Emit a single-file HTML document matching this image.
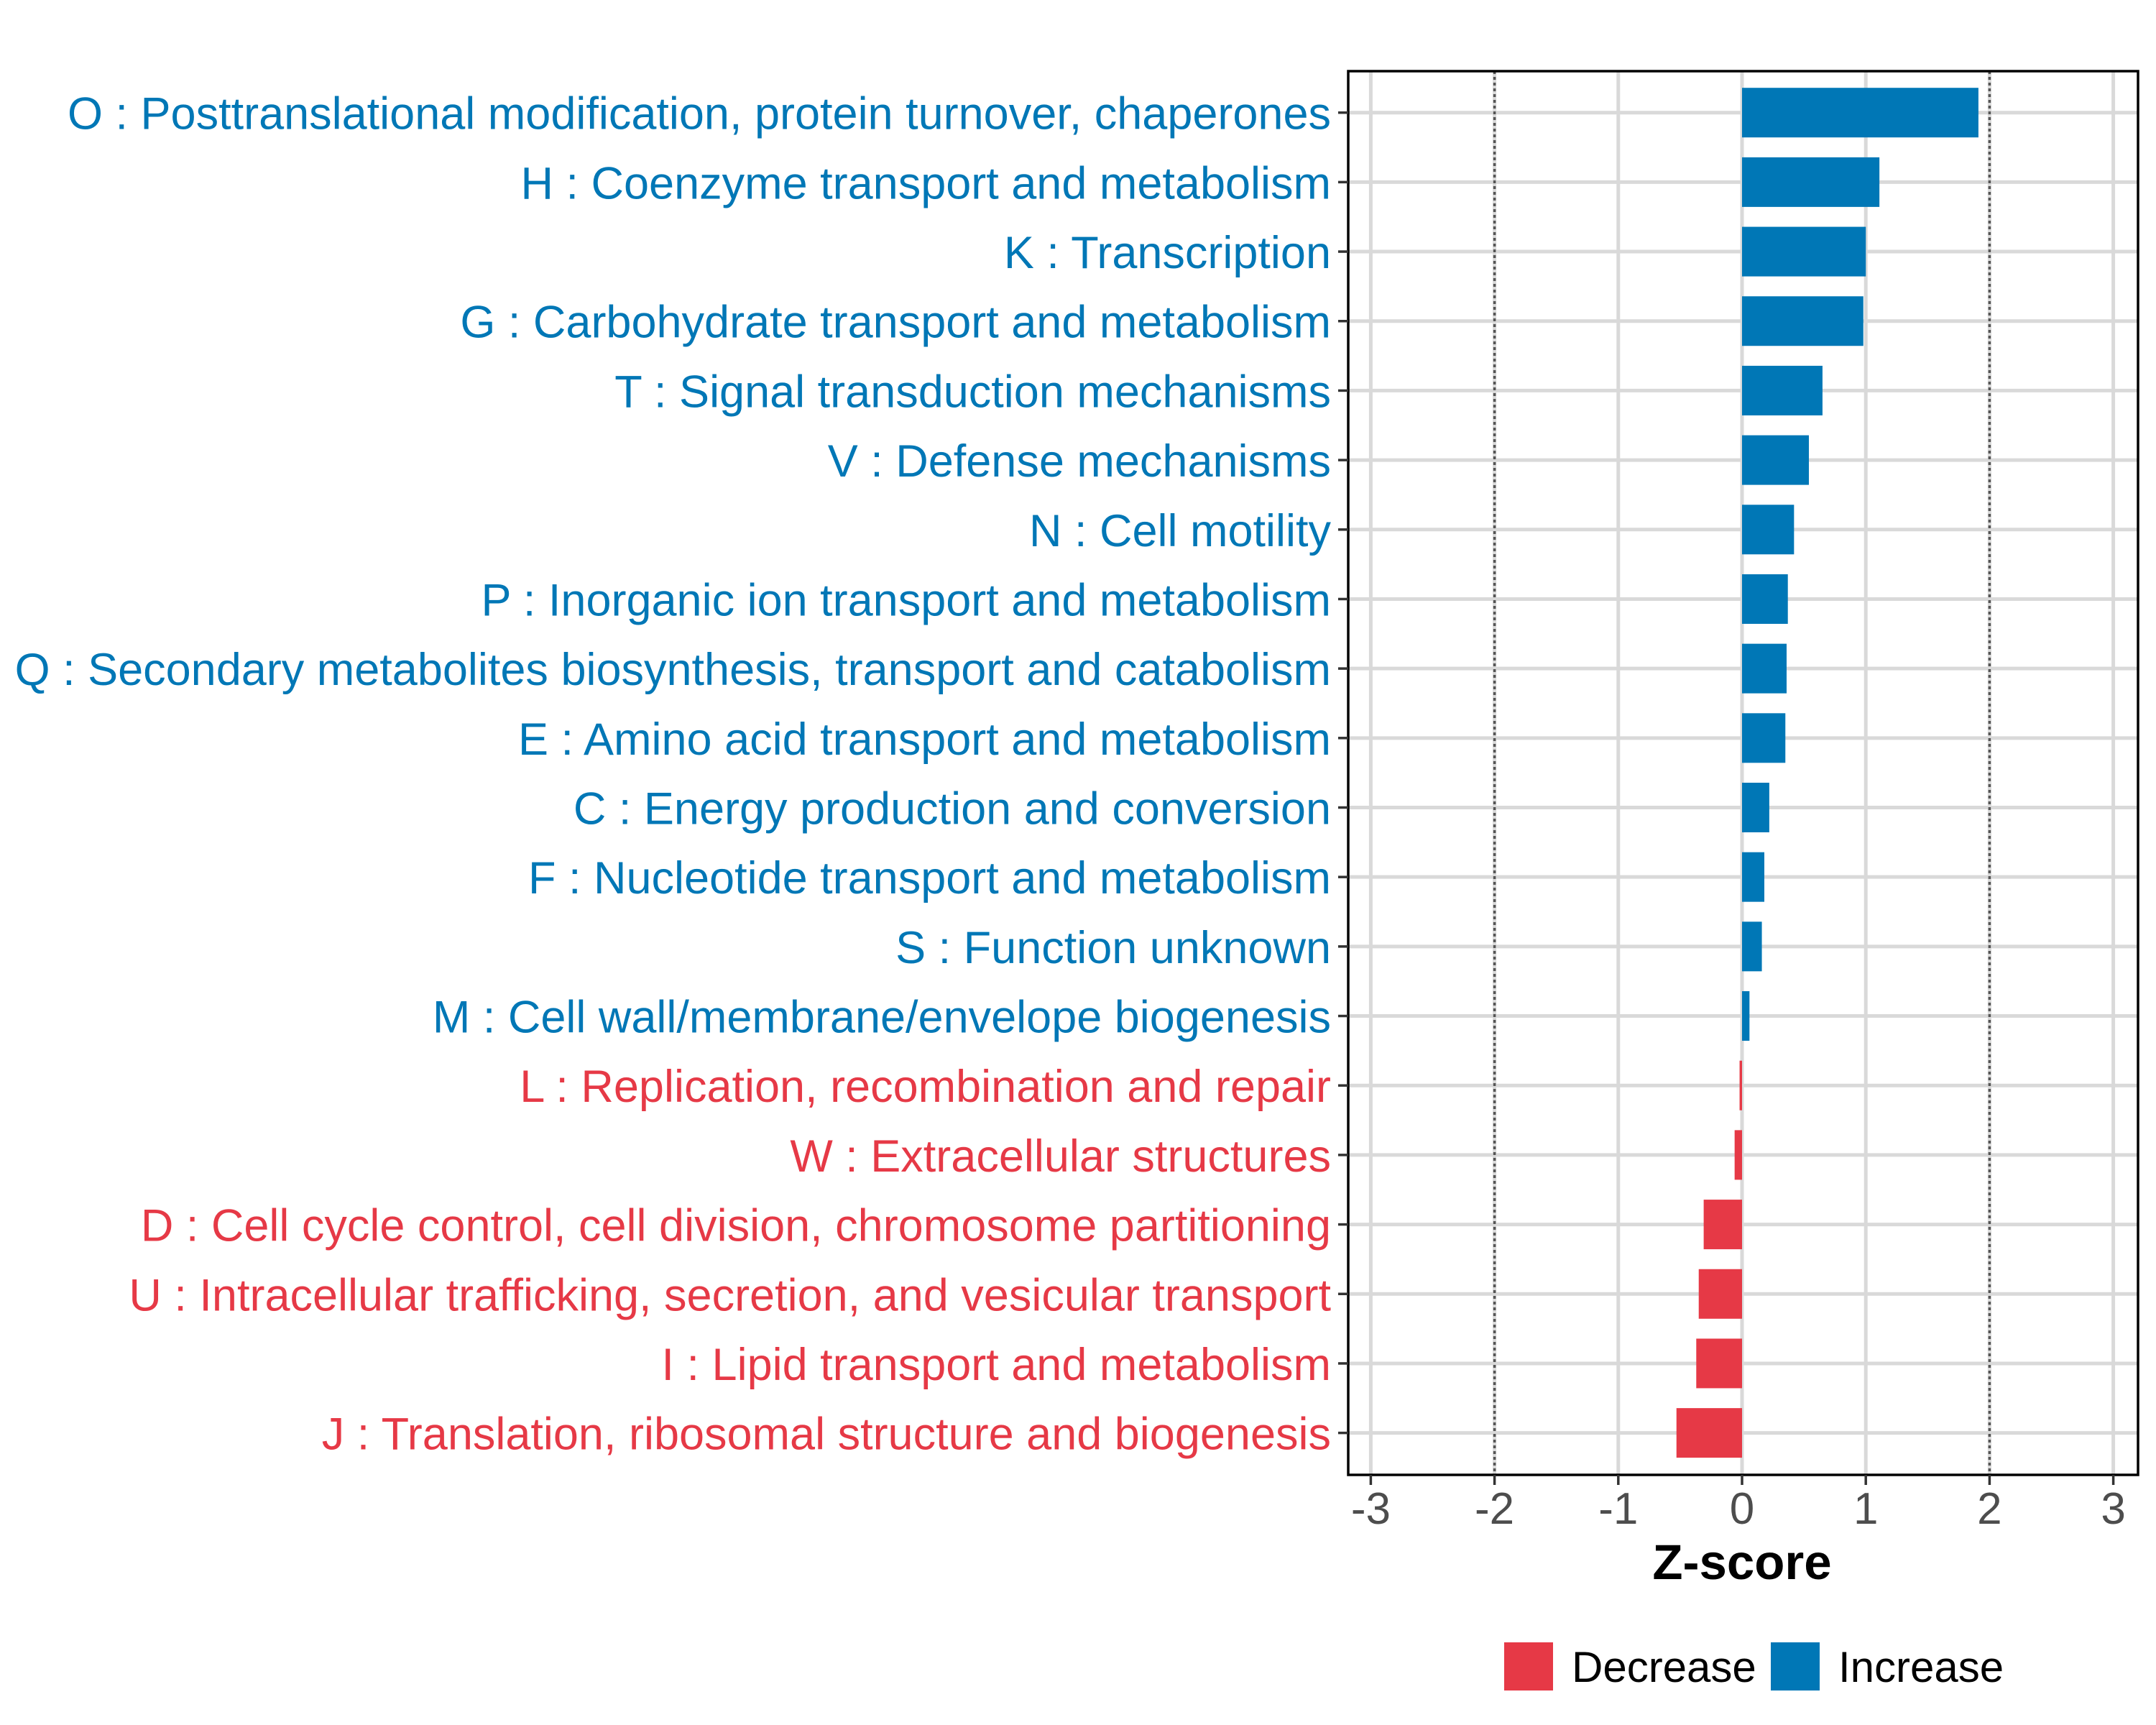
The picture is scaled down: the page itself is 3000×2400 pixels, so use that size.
<!DOCTYPE html>
<html><head><meta charset="utf-8"><style>
html,body{margin:0;padding:0;background:#fff;}
svg{display:block;font-family:"Liberation Sans",sans-serif;}
</style></head><body>
<svg id="chart" width="3000" height="2400" viewBox="0 0 3000 2400">
<rect x="0" y="0" width="3000" height="2400" fill="#fff"/>
<g id="grid"></g>
<g id="bars"></g>
<g id="refs"></g>
<rect x="1876" y="99" width="1099" height="1953" fill="none" stroke="#000" stroke-width="3.5"/>
<g id="yaxis"></g>
<g id="xaxis"></g>
<text x="2424" y="2197" text-anchor="middle" font-size="69" font-weight="bold" fill="#000">Z-score</text>
<g>
<rect x="2093" y="2285" width="68" height="67" fill="#E63946"/>
<text x="2187" y="2340" font-size="60" fill="#000">Decrease</text>
<rect x="2464" y="2285" width="68" height="67" fill="#0077B6"/>
<text x="2558" y="2340" font-size="60" fill="#000">Increase</text>
</g>
</svg>
<script>
const categories = [
"O : Posttranslational modification, protein turnover, chaperones",
"H : Coenzyme transport and metabolism",
"K : Transcription",
"G : Carbohydrate transport and metabolism",
"T : Signal transduction mechanisms",
"V : Defense mechanisms",
"N : Cell motility",
"P : Inorganic ion transport and metabolism",
"Q : Secondary metabolites biosynthesis, transport and catabolism",
"E : Amino acid transport and metabolism",
"C : Energy production and conversion",
"F : Nucleotide transport and metabolism",
"S : Function unknown",
"M : Cell wall/membrane/envelope biogenesis",
"L : Replication, recombination and repair",
"W : Extracellular structures",
"D : Cell cycle control, cell division, chromosome partitioning",
"U : Intracellular trafficking, secretion, and vesicular transport",
"I : Lipid transport and metabolism",
"J : Translation, ribosomal structure and biogenesis"
];
const zscores = [1.91,1.11,1.0,0.98,0.65,0.54,0.42,0.37,0.36,0.35,0.22,0.18,0.16,0.06,-0.02,-0.06,-0.31,-0.35,-0.37,-0.53];
const xTicks = [-3,-2,-1,0,1,2,3];
const xTickLabels = ["-3","-2","-1","0","1","2","3"];
const refLines = [-2,2];

const NS="http://www.w3.org/2000/svg";
const BLUE="#0077B6", RED="#E63946";
const X0=2424, UNIT=172.2, PT=99, PB=2052, PL=1876, PR=2975;
const ROW0=156.7, STEP=96.68, BARH=69;
function xs(v){return X0+v*UNIT;}
function ys(i){return ROW0+i*STEP;}
function mk(tag,attrs,parent){const e=document.createElementNS(NS,tag);for(const k in attrs)e.setAttribute(k,attrs[k]);parent.appendChild(e);return e;}
const grid=document.getElementById('grid'),bars=document.getElementById('bars'),refs=document.getElementById('refs'),yaxis=document.getElementById('yaxis'),xaxis=document.getElementById('xaxis');

xTicks.forEach((t,i)=>{
  const l=mk('line',{x1:xs(t),x2:xs(t),y1:PT,y2:PB,stroke:'#d9d9d9','stroke-width':5},grid);
  
  
  const tk=mk('line',{x1:xs(t),x2:xs(t),y1:PB,y2:PB+14,stroke:'#333','stroke-width':3.5},xaxis);
  
  
  const tx=mk('text',{x:xs(t),y:2120,'text-anchor':'middle','font-size':62,fill:'#4d4d4d'},xaxis);
  tx.textContent=xTickLabels[i];
  
  
});
categories.forEach((c,i)=>{
  const y=ys(i);
  const g=mk('line',{x1:PL,x2:PR,y1:y,y2:y,stroke:'#d9d9d9','stroke-width':5},grid);
  
  
  const v=zscores[i], col=v>=0?BLUE:RED;
  const r=mk('rect',{x:Math.min(xs(0),xs(v)),y:y-BARH/2,width:Math.abs(xs(v)-xs(0)),height:BARH,fill:col},bars);
  
  
  const tk=mk('line',{x1:PL-14,x2:PL,y1:y,y2:y,stroke:'#333','stroke-width':3.5},yaxis);
  
  
  const tx=mk('text',{x:1852,y:y+23,'text-anchor':'end','font-size':63,fill:col},yaxis);
  tx.textContent=c;
  
  
});
refLines.forEach(v=>{
  const l=mk('line',{x1:xs(v),x2:xs(v),y1:PT,y2:PB,stroke:'#555','stroke-width':3.5,'stroke-dasharray':'4 4'},refs);
  
  
});
</script>
</body></html>
